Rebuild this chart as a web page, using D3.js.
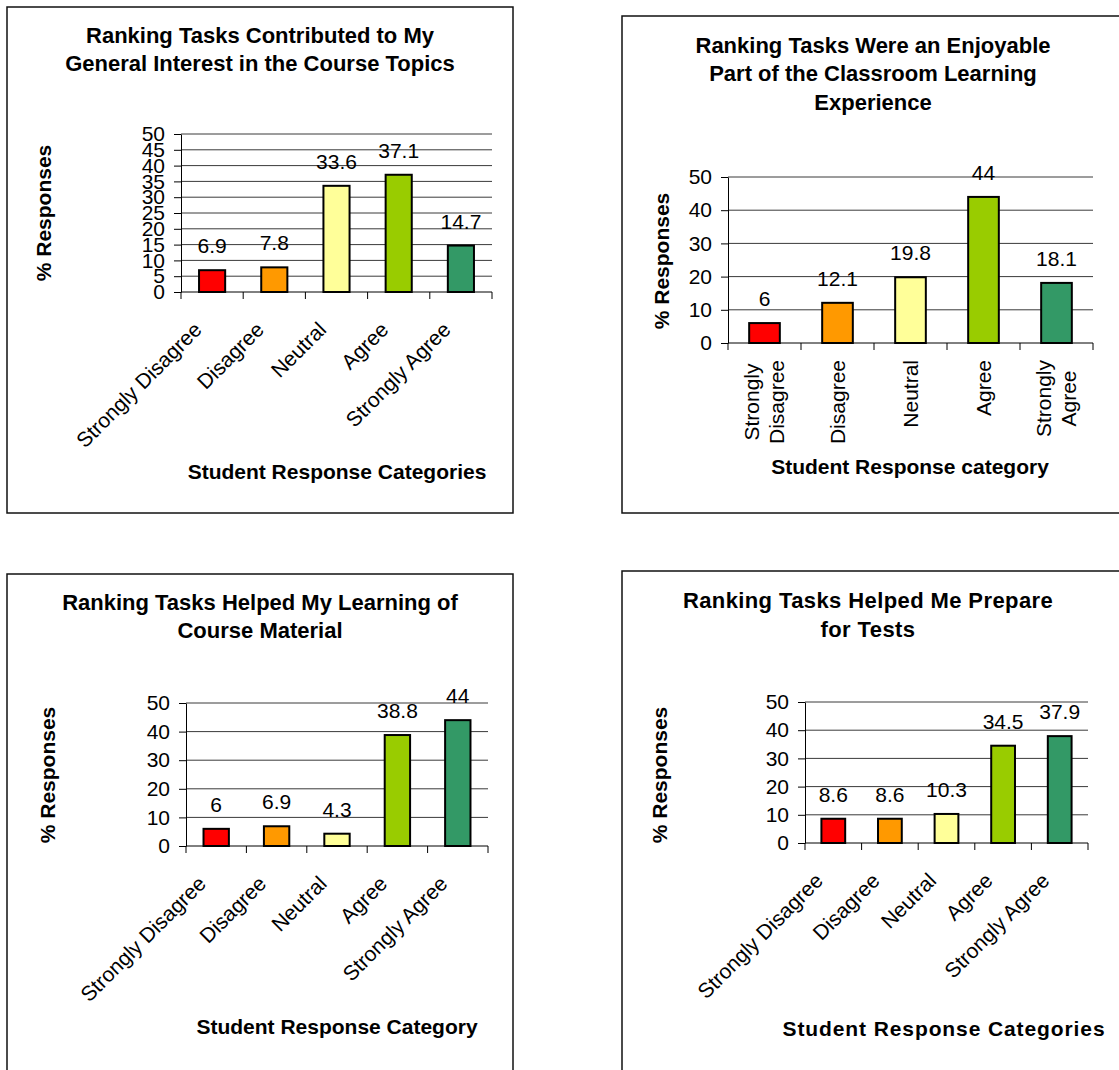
<!DOCTYPE html>
<html>
<head>
<meta charset="utf-8">
<script src="https://d3js.org/d3.v7.min.js"></script>
<style>
  body { margin: 0; background: #fff; }
  svg text { font-family: "Liberation Sans", Arial, sans-serif; fill: #000; }
</style>
</head>
<body>
<svg id="chart" width="1119" height="1070"></svg>
<script>
// data
var categories = ["Strongly Disagree", "Disagree", "Neutral", "Agree", "Strongly Agree"];
var interestValues = [6.9, 7.8, 33.6, 37.1, 14.7];
var enjoyValues = [6, 12.1, 19.8, 44, 18.1];
var learningValues = [6, 6.9, 4.3, 38.8, 44];
var testValues = [8.6, 8.6, 10.3, 34.5, 37.9];
var barColors = ["#ff0000", "#ff9900", "#ffff99", "#99cc00", "#339966"];
var ticksBy5 = [0, 5, 10, 15, 20, 25, 30, 35, 40, 45, 50];
var ticksBy10 = [0, 10, 20, 30, 40, 50];

var titles = [
  ["Ranking Tasks Contributed to My", "General Interest in the Course Topics"],
  ["Ranking Tasks Were an Enjoyable", "Part of the Classroom Learning", "Experience"],
  ["Ranking Tasks Helped My Learning of", "Course Material"],
  ["Ranking Tasks Helped Me Prepare", "for Tests"]
];
var xTitles = ["Student Response Categories", "Student Response category",
               "Student Response Category", "Student Response Categories"];
var yTitle = "% Responses";

// layout of each panel (pixels)
var panels = [
  { values: interestValues, ticks: ticksBy5, title: titles[0], xTitle: xTitles[0],
    frame: [7, 7, 506, 506], plot: [181, 492, 134, 292],
    titleX: 260, titleY: [43, 71], xt: [337, 479], yt: [51, 213], labels: "diag", spacing: [0, 0] },
  { values: enjoyValues, ticks: ticksBy10, title: titles[1], xTitle: xTitles[1],
    frame: [622, 16, 520, 497], plot: [728, 1093, 177, 343],
    titleX: 873, titleY: [53, 81, 110], xt: [910, 474], yt: [669, 261], labels: "vert", spacing: [0, 0] },
  { values: learningValues, ticks: ticksBy10, title: titles[2], xTitle: xTitles[2],
    frame: [7, 574, 506, 520], plot: [186, 488, 703, 846],
    titleX: 260, titleY: [610, 638], xt: [337, 1034], yt: [55, 775], labels: "diag", spacing: [0, 0] },
  { values: testValues, ticks: ticksBy10, title: titles[3], xTitle: xTitles[3],
    frame: [622, 571, 520, 520], plot: [805, 1088, 702, 843],
    titleX: 868, titleY: [608, 637], xt: [944, 1036], yt: [667, 775], labels: "diag", spacing: [0.4, 0.9] }
];

var svg = d3.select("#chart");

panels.forEach(function(p) {
  var g = svg.append("g");

  g.append("rect")
    .attr("x", p.frame[0]).attr("y", p.frame[1])
    .attr("width", p.frame[2]).attr("height", p.frame[3])
    .attr("fill", "none").attr("stroke", "#111").attr("stroke-width", 1.5);

  // title
  g.selectAll(".title").data(p.title).enter().append("text")
    .attr("x", p.titleX)
    .attr("y", function(d, i) { return p.titleY[i]; })
    .attr("text-anchor", "middle")
    .style("font-size", "22px").style("font-weight", "bold")
    .style("letter-spacing", p.spacing[0] + "px")
    .text(function(d) { return d; });

  var x = d3.scaleBand()
    .domain(categories)
    .range([p.plot[0], p.plot[1]])
    .paddingInner(0.58)
    .paddingOuter(0.29);
  var step = x.step();

  var y = d3.scaleLinear()
    .domain([0, 50])
    .range([p.plot[3], p.plot[2]]);

  // gridlines
  g.selectAll(".grid").data(p.ticks.filter(function(t) { return t > 0; })).enter().append("line")
    .attr("x1", p.plot[0]).attr("x2", p.plot[1])
    .attr("y1", function(d) { return y(d); }).attr("y2", function(d) { return y(d); })
    .attr("stroke", "#3a3a3a").attr("stroke-width", 1);

  // y axis
  var yAxis = g.append("g")
    .attr("transform", "translate(" + p.plot[0] + ",0)")
    .call(d3.axisLeft(y).tickValues(p.ticks).tickSize(7).tickSizeOuter(0).tickPadding(9));
  yAxis.selectAll("text").style("font-size", "21px").attr("font-family", null);
  yAxis.selectAll("line, path").attr("stroke", "#000");

  // x axis line and category boundary ticks
  g.append("line")
    .attr("x1", p.plot[0]).attr("x2", p.plot[1])
    .attr("y1", y(0)).attr("y2", y(0))
    .attr("stroke", "#000");
  g.selectAll(".xtick").data(d3.range(categories.length + 1)).enter().append("line")
    .attr("x1", function(i) { return x.range()[0] + i * step; })
    .attr("x2", function(i) { return x.range()[0] + i * step; })
    .attr("y1", y(0)).attr("y2", y(0) + 7)
    .attr("stroke", "#000");

  // bars
  g.selectAll(".bar").data(p.values).enter().append("rect")
    .attr("x", function(d, i) { return x(categories[i]); })
    .attr("y", function(d) { return y(d); })
    .attr("width", x.bandwidth())
    .attr("height", function(d) { return y(0) - y(d); })
    .attr("fill", function(d, i) { return barColors[i]; })
    .attr("stroke", "#000").attr("stroke-width", 2);

  // value labels
  g.selectAll(".val").data(p.values).enter().append("text")
    .attr("x", function(d, i) { return x(categories[i]) + x.bandwidth() / 2; })
    .attr("y", function(d) { return y(d) - 17; })
    .attr("text-anchor", "middle")
    .style("font-size", "21px")
    .text(function(d) { return d; });

  // category labels
  categories.forEach(function(c) {
    var cx = x(c) + x.bandwidth() / 2;
    if (p.labels === "diag") {
      g.append("text")
        .attr("transform", "translate(" + (cx - 9) + "," + (y(0) + 39) + ") rotate(-45)")
        .attr("text-anchor", "end")
        .style("font-size", "21px")
        .text(c);
    } else {
      var lines = c.indexOf("Strongly") === 0 ? c.split(" ") : [c];
      var top = y(0) + 17;
      var texts = lines.map(function(line, i) {
        var off = (i - (lines.length - 1) / 2) * 25;
        return g.append("text")
          .attr("text-anchor", lines.length > 1 ? "middle" : "end")
          .attr("dy", "0.35em")
          .style("font-size", "21px")
          .text(line)
          .datum(off);
      });
      var maxLen = d3.max(texts, function(t) { return t.node().getComputedTextLength(); });
      texts.forEach(function(t) {
        var ty = lines.length > 1 ? top + maxLen / 2 : top;
        t.attr("transform", "translate(" + (cx + t.datum()) + "," + ty + ") rotate(-90)");
      });
    }
  });

  // axis titles
  g.append("text")
    .attr("x", p.xt[0]).attr("y", p.xt[1])
    .attr("text-anchor", "middle")
    .style("font-size", "21px").style("font-weight", "bold")
    .style("letter-spacing", p.spacing[1] + "px")
    .text(p.xTitle);

  g.append("text")
    .attr("transform", "translate(" + p.yt[0] + "," + p.yt[1] + ") rotate(-90)")
    .attr("text-anchor", "middle")
    .style("font-size", "21px").style("font-weight", "bold")
    .text(yTitle);
});
</script>
</body>
</html>
